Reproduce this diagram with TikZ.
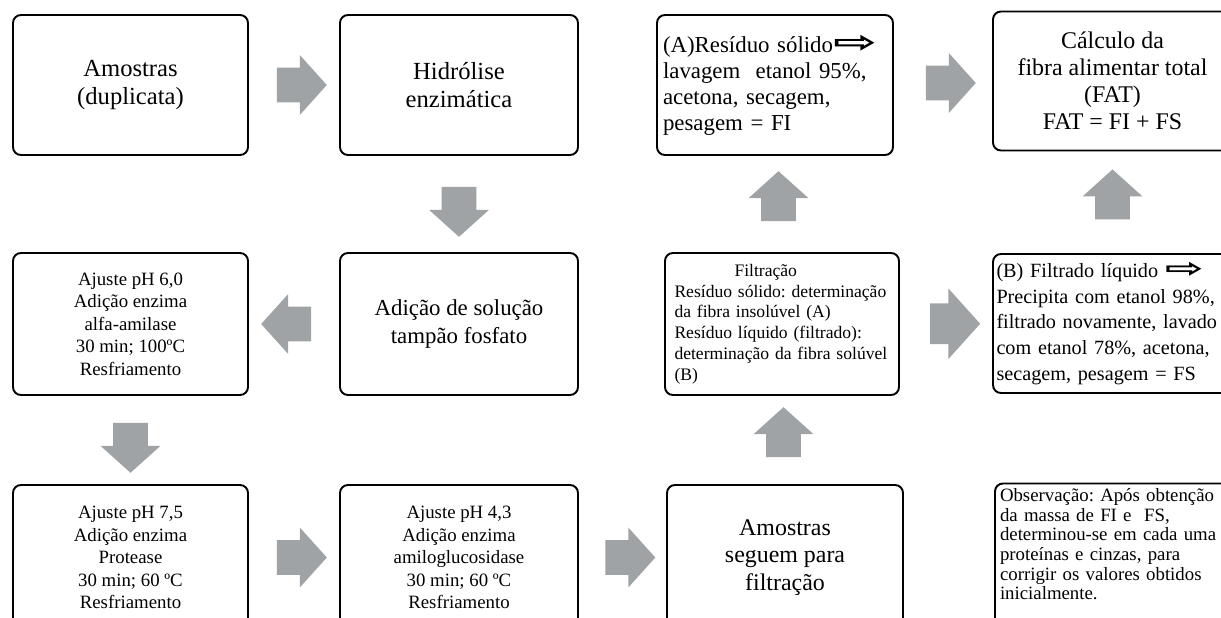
\documentclass[tikz,border=0pt]{standalone}
\usepackage{fontspec}
\setmainfont{Liberation Serif}
\newfontfamily\symfont{DejaVu Sans}
\usepackage{graphicx}
\usetikzlibrary{positioning, calc, shapes.arrows}

\definecolor{arrowgray}{RGB}{160,163,165}
\newcommand{\hollowarrow}{\scalebox{2.3}[1.3]{\symfont\bfseries ⇨}}

\begin{document}
\frenchspacing
\begin{tikzpicture}[
  box/.style={draw, line width=1.1pt, rounded corners=0.16cm, align=center, inner sep=0.1cm},
  flow/.style={single arrow, fill=arrowgray, draw=none, inner xsep=0pt, inner ysep=0.34cm,
    minimum height=1.0cm, single arrow head extend=0.25cm, single arrow tip angle=96}
  ]
  \useasboundingbox (0,0) rectangle (24.42,-12.36);

  % First row
  \node[box, minimum width=4.70cm, minimum height=2.80cm, font=\fontsize{14}{15.5}\selectfont] (samples) at (2.61,-1.70) {Amostras\\(duplicata)};
  \node[box, minimum width=4.76cm, minimum height=2.80cm, font=\fontsize{14}{15.5}\selectfont] (hydrolysis) at (9.18,-1.70) {Hidrólise\\enzimática};
  \node[box, minimum width=4.72cm, minimum height=2.80cm, align=left, inner xsep=0.12cm, text width=4.48cm, font=\fontsize{13}{14.8}\selectfont] (insoluble) at (15.50,-1.70) {(A)Resíduo sólido\hollowarrow\\lavagem\ \ etanol 95\%,\\acetona, secagem,\\pesagem = FI};
  \node[box, minimum width=4.78cm, minimum height=2.78cm, font=\fontsize{13.6}{15.4}\selectfont] (total) at (22.25,-1.62) {Cálculo da\\fibra alimentar total\\(FAT)\\FAT = FI + FS};

  % Second row
  \node[box, minimum width=4.70cm, minimum height=2.84cm, font=\fontsize{10.7}{12.8}\selectfont] (alpha) at (2.61,-6.48) {Ajuste pH 6,0\\Adição enzima\\alfa-amilase\\30 min; 100ºC\\Resfriamento};
  \node[box, minimum width=4.76cm, minimum height=2.84cm, font=\fontsize{13}{15.5}\selectfont] (buffer) at (9.18,-6.48) {Adição de solução\\tampão fosfato};
  \node[box, minimum width=4.68cm, minimum height=2.84cm, align=left, inner xsep=0.19cm, text width=4.30cm, font=\fontsize{10}{11.8}\selectfont] (filter) at (15.64,-6.48) {\hspace*{1.2cm}Filtração\\Resíduo sólido: determinação\\da fibra insolúvel (A)\\Resíduo líquido (filtrado):\\determinação da fibra solúvel\\(B)};
  \node[box, minimum width=5.14cm, minimum height=2.78cm, align=left, inner xsep=0.06cm, text width=5.0cm, font=\fontsize{11.5}{14.7}\selectfont] (soluble) at (22.43,-6.47) {(B) Filtrado líquido \hollowarrow\\Precipita com etanol 98\%,\\filtrado novamente, lavado\\com etanol 78\%, acetona,\\secagem, pesagem = FS};

  % Third row
  \node[box, minimum width=4.70cm, minimum height=2.90cm, font=\fontsize{10.7}{12.8}\selectfont] (protease) at (2.61,-11.15) {Ajuste pH 7,5\\Adição enzima\\Protease\\30 min; 60 ºC\\Resfriamento};
  \node[box, minimum width=4.76cm, minimum height=2.90cm, font=\fontsize{10.7}{12.8}\selectfont] (amylo) at (9.18,-11.15) {Ajuste pH 4,3\\Adição enzima\\amiloglucosidase\\30 min; 60 ºC\\Resfriamento};
  \node[box, minimum width=4.72cm, minimum height=2.90cm, font=\fontsize{13.6}{15.6}\selectfont] (tofilter) at (15.70,-11.15) {Amostras\\seguem para\\filtração};
  \node[box, minimum width=5.10cm, minimum height=2.92cm, align=left, inner xsep=0.1cm, text width=4.9cm, font=\fontsize{10.7}{11.2}\selectfont] (note) at (22.45,-11.14) {Observação: Após obtenção\\da massa de FI e\ \ FS,\\determinou-se em cada uma\\proteínas e cinzas, para\\corrigir os valores obtidos\\inicialmente.\\\strut};

  % Arrows
  \node[flow] (a1a2) at ($(samples.east)!0.5!(hydrolysis.west)$) {};
  \node[flow, rotate=-90] (a2b2) at ($(hydrolysis.south)!0.5!(buffer.north)$) {};
  \node[flow, rotate=180] (b2b1) at ($(buffer.west)!0.5!(alpha.east)$) {};
  \node[flow, rotate=-90] (b1c1) at ($(alpha.south)!0.5!(protease.north)$) {};
  \node[flow] (c1c2) at ($(protease.east)!0.5!(amylo.west)$) {};
  \node[flow] (c2c3) at ($(amylo.east)!0.5!(tofilter.west)$) {};
  \node[flow, rotate=90] (c3b3) at ($(tofilter.north)!0.5!(filter.south)$) {};
  \node[flow, rotate=90] (b3a3) at ($(filter.north)!0.5!(insoluble.south)$) {};
  \node[flow, inner ysep=0.4cm, single arrow head extend=0.3cm] (b3b4) at ($(filter.east)!0.5!(soluble.west)$) {};
  \node[flow] (a3a4) at ($(insoluble.east)!0.5!(total.west)$) {};
  \node[flow, rotate=90] (b4a4) at ($(total.south)!0.5!(total.south |- soluble.north)$) {};
\end{tikzpicture}
\end{document}
